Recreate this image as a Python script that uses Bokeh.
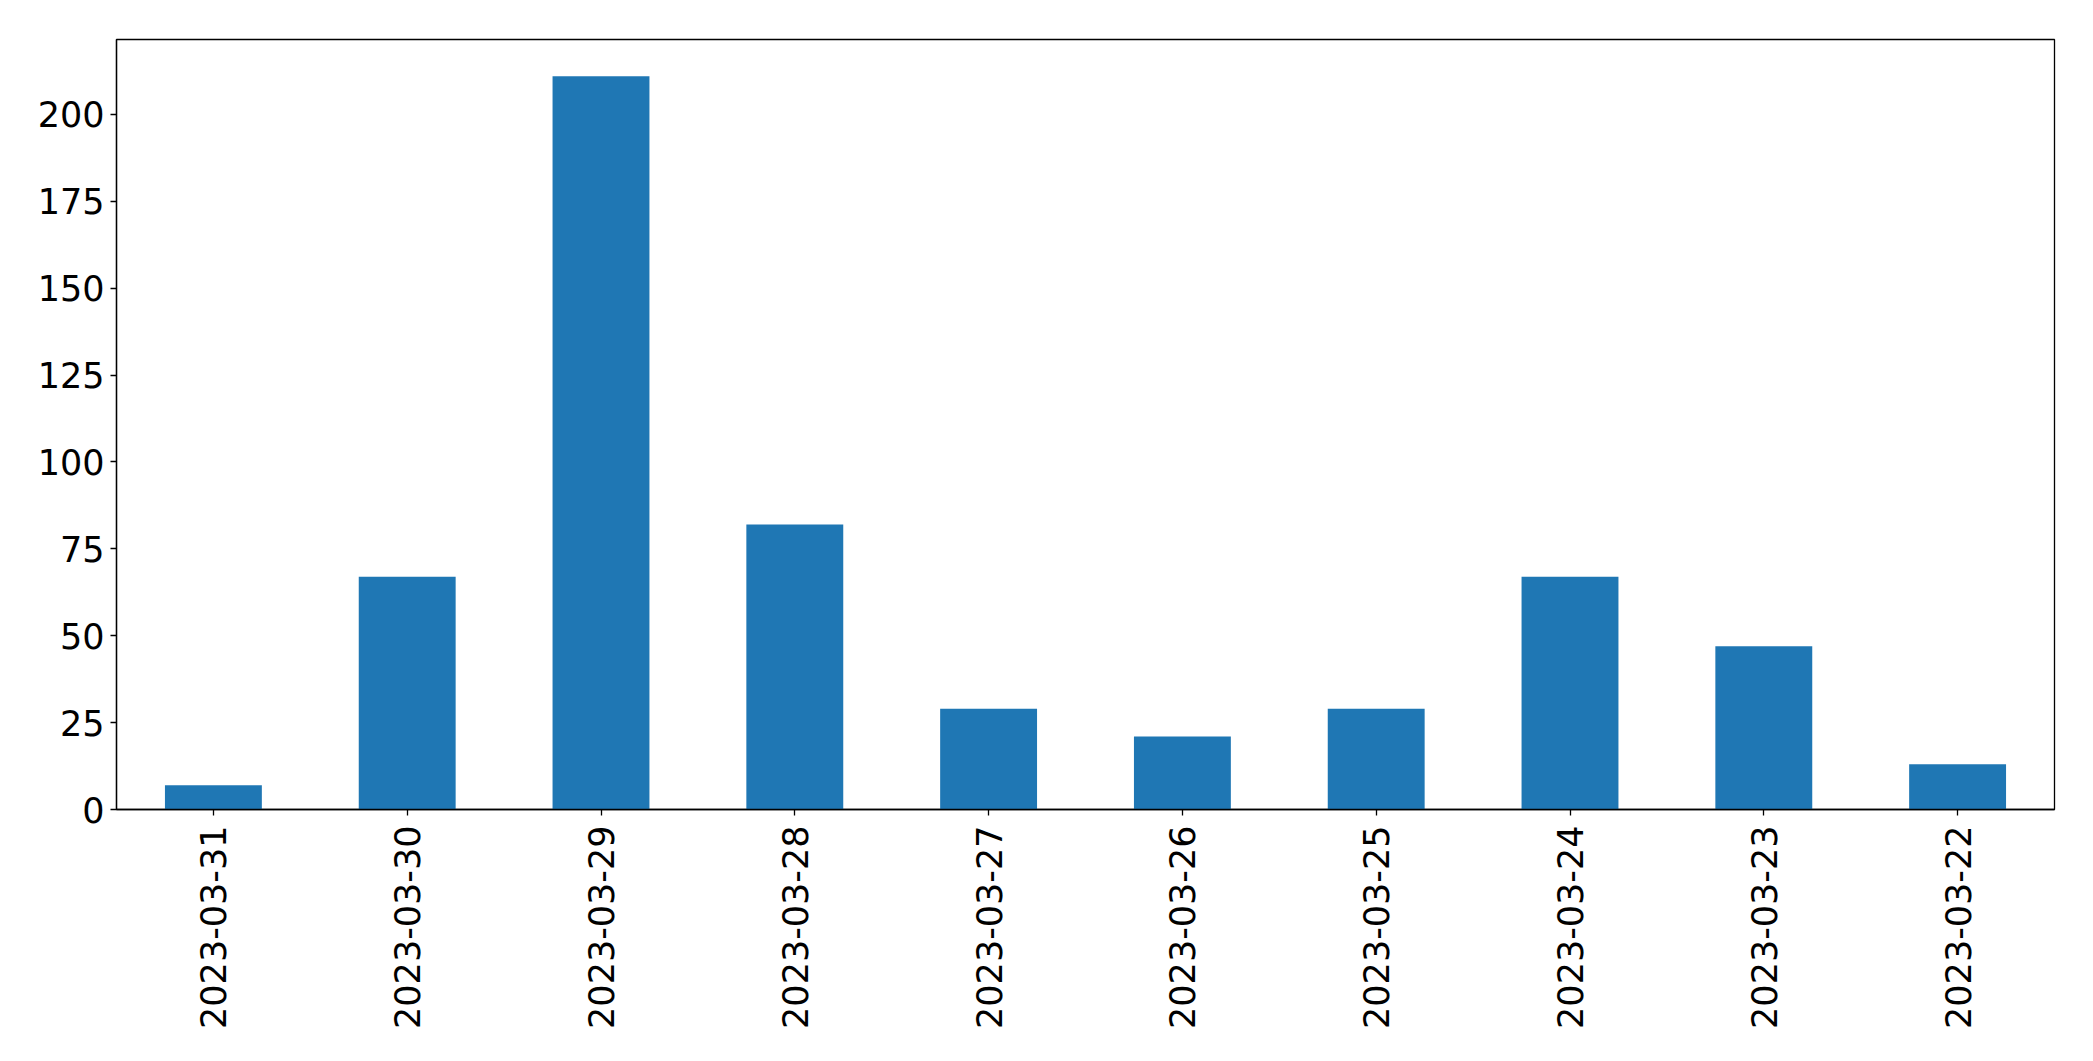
import math
from bokeh.plotting import figure
from bokeh.models import ColumnDataSource, FixedTicker, Range1d, FactorRange
from bokeh.embed import file_html
from bokeh.resources import INLINE

dates = ["2023-03-31", "2023-03-30", "2023-03-29", "2023-03-28", "2023-03-27",
         "2023-03-26", "2023-03-25", "2023-03-24", "2023-03-23", "2023-03-22"]
counts = [7, 67, 211, 82, 29, 21, 29, 67, 47, 13]
y_ticks = [0, 25, 50, 75, 100, 125, 150, 175, 200]

source = ColumnDataSource(data=dict(dates=dates, counts=counts))

FONT = "DejaVu Sans"
W, H = 2077, 1045

p = figure(width=W, height=H, x_range=FactorRange(*dates, range_padding=0),
           y_range=Range1d(0, max(counts) * 1.05),
           output_backend="svg", toolbar_location=None, tools="")
p.min_border_left = 116
p.min_border_right = 23
p.min_border_top = 39
p.min_border_bottom = 236

p.vbar(x="dates", top="counts", width=0.5, source=source,
       fill_color="#1f77b4", line_color=None)

p.xgrid.visible = False
p.ygrid.visible = False
p.outline_line_color = "black"
p.outline_line_width = 1.3
p.outline_line_alpha = 1.0

for ax in (p.xaxis[0], p.yaxis[0]):
    ax.axis_line_color = "black"
    ax.axis_line_width = 1.3
    ax.major_tick_line_color = "black"
    ax.major_tick_line_width = 1.3
    ax.major_tick_out = 6
    ax.major_tick_in = 0
    ax.minor_tick_line_color = None
    ax.major_label_text_font = FONT
    ax.major_label_text_font_size = "35px"
    ax.major_label_text_color = "black"

p.yaxis[0].ticker = FixedTicker(ticks=y_ticks)
p.yaxis[0].major_label_standoff = 6
p.xaxis[0].major_label_orientation = math.pi / 2
p.xaxis[0].major_label_standoff = 10

open("out.html", "w").write(file_html(p, INLINE))
